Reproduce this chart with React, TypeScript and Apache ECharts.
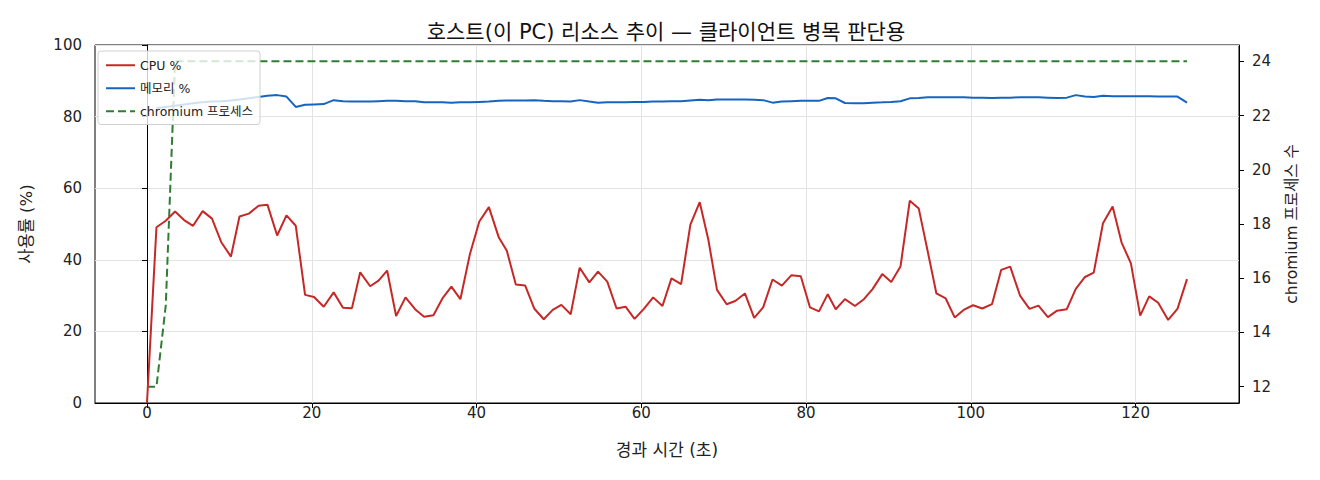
import React, { useEffect, useRef } from "react";
import * as echarts from "echarts";

// elapsed seconds of each sample
const times = [
  0, 1.15, 2.28, 3.41, 4.5, 5.59, 6.76, 7.89, 9.02, 10.19,
  11.23, 12.37, 13.54, 14.62, 15.8, 16.93, 18.06, 19.19, 20.28, 21.45,
  22.66, 23.79, 24.88, 25.88, 27.09, 28.11, 29.15, 30.24, 31.38, 32.54,
  33.63, 34.77, 35.86, 36.95, 38.04, 39.2, 40.34, 41.5, 42.71, 43.68,
  44.77, 45.91, 47.0, 48.16, 49.25, 50.3, 51.43, 52.52, 53.69, 54.75,
  55.87, 57.0, 58.09, 59.18, 60.31, 61.44, 62.57, 63.66, 64.83, 65.96,
  67.09, 68.14, 69.19, 70.36, 71.4, 72.58, 73.7, 74.79, 75.93, 77.06,
  78.23, 79.36, 80.48, 81.57, 82.63, 83.6, 84.72, 85.93, 87.02, 88.07,
  89.25, 90.34, 91.46, 92.59, 93.68, 94.77, 95.82, 96.95, 98.04, 99.13,
  100.27, 101.39, 102.57, 103.69, 104.78, 105.99, 107.12, 108.21, 109.35, 110.47,
  111.65, 112.74, 113.86, 114.92, 116.04, 117.21, 118.3, 119.43, 120.56, 121.65,
  122.74, 123.95, 125.08, 126.24,
];

const cpu = [
  0, 49.1, 50.9, 53.5, 51.1, 49.5, 53.6, 51.5, 44.9, 40.9,
  52.1, 52.9, 55.1, 55.4, 46.8, 52.4, 49.5, 30.2, 29.6, 26.9,
  30.9, 26.6, 26.5, 36.5, 32.6, 34.2, 37.0, 24.3, 29.5, 26.2,
  24.1, 24.5, 29.2, 32.5, 29.0, 41.6, 50.7, 54.7, 46.2, 42.5,
  33.1, 32.8, 26.4, 23.4, 26.0, 27.4, 24.8, 37.8, 33.7, 36.7,
  33.9, 26.4, 26.9, 23.5, 26.3, 29.5, 27.1, 34.8, 33.2, 49.8,
  56.1, 45.6, 31.6, 27.6, 28.5, 30.6, 23.8, 26.7, 34.5, 32.8,
  35.7, 35.4, 26.7, 25.6, 30.4, 26.2, 29.0, 27.1, 29.0, 31.8,
  36.0, 33.8, 38.1, 56.5, 54.3, 42.3, 30.6, 29.2, 23.9, 26.0,
  27.3, 26.4, 27.6, 37.2, 38.1, 29.9, 26.3, 27.2, 24.0, 25.8,
  26.2, 31.9, 35.2, 36.4, 50.2, 54.9, 44.8, 39.0, 24.4, 29.8,
  28.0, 23.2, 26.3, 34.6,
];

const memory = [
  null, 82.4, 82.7, 83.0, 83.4, 83.7, 84.0, 84.2, 84.3, 84.5,
  84.8, 85.1, 85.5, 85.8, 86.0, 85.6, 82.7, 83.3, 83.4, 83.5,
  84.6, 84.3, 84.2, 84.2, 84.2, 84.3, 84.4, 84.4, 84.3, 84.3,
  84.0, 84.0, 84.0, 83.9, 84.0, 84.0, 84.1, 84.2, 84.4, 84.5,
  84.5, 84.5, 84.6, 84.4, 84.3, 84.3, 84.2, 84.6, 84.2, 83.9,
  84.0, 84.0, 84.0, 84.1, 84.1, 84.2, 84.2, 84.3, 84.3, 84.5,
  84.7, 84.6, 84.8, 84.8, 84.8, 84.8, 84.7, 84.6, 83.9, 84.2,
  84.3, 84.4, 84.4, 84.4, 85.2, 85.1, 83.8, 83.7, 83.7, 83.9,
  84.0, 84.1, 84.3, 85.1, 85.2, 85.4, 85.4, 85.4, 85.4, 85.4,
  85.3, 85.3, 85.2, 85.3, 85.3, 85.4, 85.4, 85.4, 85.3, 85.2,
  85.3, 86.0, 85.6, 85.5, 85.8, 85.7, 85.7, 85.7, 85.7, 85.7,
  85.6, 85.6, 85.6, 83.9,
];

const chromium = [
  12, 12, 15, 24, 24, 24, 24, 24, 24, 24,
  24, 24, 24, 24, 24, 24, 24, 24, 24, 24,
  24, 24, 24, 24, 24, 24, 24, 24, 24, 24,
  24, 24, 24, 24, 24, 24, 24, 24, 24, 24,
  24, 24, 24, 24, 24, 24, 24, 24, 24, 24,
  24, 24, 24, 24, 24, 24, 24, 24, 24, 24,
  24, 24, 24, 24, 24, 24, 24, 24, 24, 24,
  24, 24, 24, 24, 24, 24, 24, 24, 24, 24,
  24, 24, 24, 24, 24, 24, 24, 24, 24, 24,
  24, 24, 24, 24, 24, 24, 24, 24, 24, 24,
  24, 24, 24, 24, 24, 24, 24, 24, 24, 24,
  24, 24, 24, 24,
];

const xTicks = [0, 20, 40, 60, 80, 100, 120];
const rightTicks = [12, 14, 16, 18, 20, 22, 24];

const FONT = "'DejaVu Sans', 'Noto Sans CJK KR', sans-serif";

const ResourceChart: React.FC = () => {
  const chartRef = useRef<HTMLDivElement>(null);

  useEffect(() => {
    if (!chartRef.current) return;
    const chart = echarts.init(chartRef.current, undefined, { renderer: "svg" });

    const pairs = (vals: (number | null)[]) => vals.map((v, i) => [times[i], v]);
    const axisLabelStyle = { color: "#222", fontSize: 15, fontFamily: FONT };

    chart.setOption({
      animation: false,
      textStyle: { fontFamily: FONT },
      title: {
        text: "호스트(이 PC) 리소스 추이 — 클라이언트 병목 판단용",
        left: 661,
        textAlign: "center",
        top: 16,
        textStyle: { fontSize: 21, fontWeight: "normal", color: "#111", fontFamily: FONT },
      },
      legend: {
        orient: "vertical",
        left: 98,
        top: 51,
        padding: [8, 7, 7, 7],
        itemGap: 10.5,
        itemWidth: 29,
        itemHeight: 14,
        itemStyle: { opacity: 0 },
        backgroundColor: "rgba(255,255,255,0.8)",
        borderColor: "#d0d0d0",
        borderWidth: 1,
        borderRadius: 3,
        textStyle: { fontSize: 12.5, color: "#222", fontFamily: FONT },
        data: ["CPU %", "메모리 %", "chromium 프로세스"],
      },
      grid: {
        left: 95,
        right: 81,
        top: 45,
        bottom: 77,
        show: true,
        borderColor: "#000",
        borderWidth: 1,
        backgroundColor: "transparent",
        containLabel: false,
        outerBoundsMode: "none",
      },
      xAxis: {
        type: "value",
        min: -6.31,
        max: 132.55,
        name: "경과 시간 (초)",
        nameLocation: "middle",
        nameGap: 38,
        nameTextStyle: { fontSize: 17, color: "#222", fontFamily: FONT },
        axisLine: { show: true, onZero: false, lineStyle: { color: "#000" } },
        axisTick: { show: true, inside: false, length: 5, customValues: xTicks, lineStyle: { color: "#000" } },
        axisLabel: { ...axisLabelStyle, margin: 2, customValues: xTicks },
        splitLine: { show: true, lineStyle: { color: "#e3e3e3", width: 1 } },
      },
      yAxis: [
        {
          type: "value",
          min: 0,
          max: 100,
          interval: 20,
          name: "사용률 (%)",
          nameLocation: "middle",
          nameGap: 60,
          nameTextStyle: { fontSize: 16.5, color: "#222", fontFamily: FONT },
          axisLine: { show: true, lineStyle: { color: "#000" } },
          axisTick: { show: true, inside: false, length: 5, lineStyle: { color: "#000" } },
          axisLabel: { ...axisLabelStyle, margin: 13 },
          splitLine: { show: true, lineStyle: { color: "#e3e3e3", width: 1 } },
        },
        {
          type: "value",
          position: "right",
          min: 11.4,
          max: 24.6,
          name: "chromium 프로세스 수",
          nameLocation: "middle",
          nameGap: 45,
          nameRotate: 90,
          nameTextStyle: { fontSize: 15.5, color: "#222", fontFamily: FONT },
          axisLine: { show: true, lineStyle: { color: "#000" } },
          axisTick: { show: true, inside: false, length: 5, customValues: rightTicks, lineStyle: { color: "#000" } },
          axisLabel: { ...axisLabelStyle, margin: 13, customValues: rightTicks },
          splitLine: { show: false },
        },
      ],
      series: [
        {
          name: "CPU %",
          type: "line",
          yAxisIndex: 0,
          symbol: "none",
          data: pairs(cpu),
          lineStyle: { color: "#c62828", width: 2 },
          itemStyle: { color: "#c62828" },
          z: 3,
        },
        {
          name: "메모리 %",
          type: "line",
          yAxisIndex: 0,
          symbol: "none",
          data: pairs(memory),
          lineStyle: { color: "#1565c0", width: 2 },
          itemStyle: { color: "#1565c0" },
          z: 3,
        },
        {
          name: "chromium 프로세스",
          type: "line",
          yAxisIndex: 1,
          symbol: "none",
          data: pairs(chromium),
          lineStyle: { color: "#2e7d32", width: 2, type: [8, 4] },
          itemStyle: { color: "#2e7d32" },
          z: 2,
        },
      ],
    });

    return () => {
      chart.dispose();
    };
  }, []);

  return <div ref={chartRef} style={{ width: "1320px", height: "480px" }} />;
};

export default function App() {
  return (
    <div style={{ margin: -8 }}>
      <ResourceChart />
    </div>
  );
}
